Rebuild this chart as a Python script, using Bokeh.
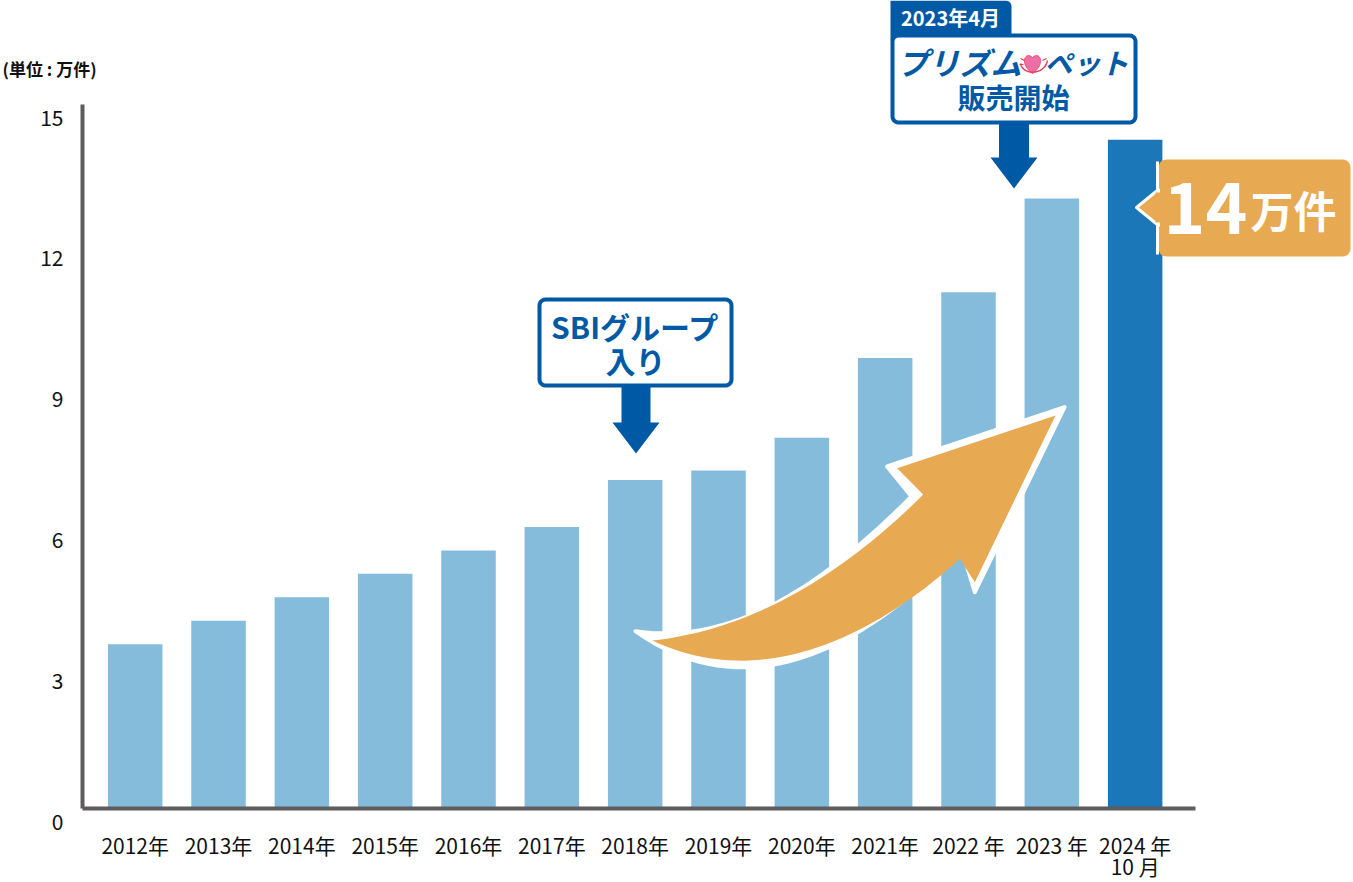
from bokeh.plotting import figure
from bokeh.models import Label, FixedTicker, Range1d, LinearAxis
from bokeh.embed import file_html
from bokeh.resources import INLINE
import numpy as np

# ---- data ----
years = ["2012年", "2013年", "2014年", "2015年", "2016年", "2017年", "2018年",
         "2019年", "2020年", "2021年", "2022 年", "2023 年", "2024 年"]
last_year_note = "10 月"
values = [3.5, 4.0, 4.5, 5.0, 5.5, 6.0, 7.0, 7.2, 7.9, 9.6, 11.0, 13.0, 14.25]
bar_colors = ["#85BCDC"] * 12 + ["#1B77B8"]
y_ticks = [0, 3, 6, 9, 12, 15]

# ---- styles / geometry ----
FONT = "Noto Sans CJK JP"
BLUE = "#0059A4"
ORANGE = "#E8A953"
AXIS = "#5E5C5D"
W, H = 1353, 882
LEFT, BASE = 82, 808          # pixel position of the axes
STEP, UNIT = 83.33, 46.93     # pixels per category, pixels per value unit
X0 = 134.7                    # pixel centre of the first bar
LABEL_DROP = 13 / UNIT        # the value labels sit lower than their level


def X(px):
    return (np.asarray(px, dtype=float) - X0) / STEP


def Y(py):
    return (BASE - np.asarray(py, dtype=float)) / UNIT


p = figure(width=W, height=H, output_backend="svg", toolbar_location=None,
           x_range=Range1d(float(X(0)), float(X(W))),
           y_range=Range1d(float(Y(H)), float(Y(0))),
           x_axis_location="below", y_axis_location="left",
           min_border=0, outline_line_color=None,
           background_fill_color="white", border_fill_color="white")
p.styles = {"position": "absolute", "left": "0px", "top": "0px"}
p.grid.visible = False
p.extra_y_ranges = {"labels": Range1d(float(Y(H)) + LABEL_DROP, float(Y(0)) + LABEL_DROP)}

idx = list(range(len(years)))
p.vbar(x=idx, top=values, bottom=0, width=54.5 / STEP, color=bar_colors, line_color=None)

xa = p.xaxis[0]
xa.fixed_location = 0
xa.ticker = FixedTicker(ticks=idx)
xa.major_label_overrides = {i: s for i, s in zip(idx, years)}
xa.bounds = (float(X(LEFT)), float(X(1195)))
xa.axis_line_color = AXIS
xa.axis_line_width = 4
xa.major_tick_line_color = None
xa.minor_tick_line_color = None
xa.major_label_text_font = FONT
xa.major_label_text_font_size = "21px"
xa.major_label_text_color = "#111111"
xa.major_label_standoff = 15

ya = p.yaxis[0]
ya.fixed_location = float(X(LEFT))
ya.ticker = FixedTicker(ticks=[])
ya.bounds = (0, 15)
ya.axis_line_color = AXIS
ya.axis_line_width = 4
ya.major_tick_line_color = None
ya.minor_tick_line_color = None

yl = LinearAxis(y_range_name="labels", fixed_location=float(X(LEFT)),
                ticker=FixedTicker(ticks=y_ticks), axis_line_color=None,
                major_tick_line_color=None, minor_tick_line_color=None,
                major_label_text_font=FONT, major_label_text_font_size="21px",
                major_label_text_color="#111111", major_label_standoff=13)
p.add_layout(yl, "left")


def txt(text, px, py, size, color=BLUE, style="bold", align="center", font=FONT):
    p.add_layout(Label(x=float(X(px)), y=float(Y(py)), text=text, text_font=font,
                       text_font_size=f"{size}px", text_color=color,
                       text_font_style=style, text_align=align,
                       text_baseline="middle"))


def rounded(x0, y0, x1, y1, r, corners=(1, 1, 1, 1)):
    """Outline of a rounded box in pixels: TL, TR, BR, BL corners."""
    pts = []
    centres = [(x0 + r, y0 + r, 180), (x1 - r, y0 + r, 270), (x1 - r, y1 - r, 0), (x0 + r, y1 - r, 90)]
    raw = [(x0, y0), (x1, y0), (x1, y1), (x0, y1)]
    for (cx, cy, a), rc, on in zip(centres, raw, corners):
        if on:
            for t in np.radians(np.linspace(a, a + 90, 7)):
                pts.append((cx + r * np.cos(t), cy + r * np.sin(t)))
        else:
            pts.append(rc)
    return pts


def poly(pts, fill, line=None, width=0):
    a = np.array(pts)
    p.patch(X(a[:, 0]), Y(a[:, 1]), fill_color=fill, line_color=line, line_width=width,
            line_join="round")


def bezier(p0, p1, p2, p3, n=40):
    t = np.linspace(0, 1, n)[:, None]
    p0, p1, p2, p3 = map(np.array, (p0, p1, p2, p3))
    return ((1 - t) ** 3 * p0 + 3 * (1 - t) ** 2 * t * p1 + 3 * (1 - t) * t ** 2 * p2 + t ** 3 * p3).tolist()


def zoomed(pts):
    return [(620 + a / 3, 390 + b / 3) for a, b in pts]


def down_arrow(cx, half_shaft, half_head, y0, y1, tip):
    poly([(cx - half_shaft, y0), (cx + half_shaft, y0), (cx + half_shaft, y1), (cx + half_head, y1),
          (cx, tip), (cx - half_head, y1), (cx - half_shaft, y1)], BLUE)


# second line of the last category label
p.add_layout(Label(x=float(idx[-1]), y=float(Y(865)), text=last_year_note, text_font=FONT,
                   text_font_size="21px", text_color="#111111", text_align="center",
                   text_baseline="middle"))

# big curved arrow: white halo, then the orange body
white = (bezier((45, 722), (370, 770), (650, 540), (873, 318))
         + [(800, 228), (1332, 50), (1063, 605), (1025, 480)]
         + bezier((1015, 480), (760, 740), (400, 975), (45, 722)))
poly(zoomed(white), "white", "white", 4)
body = (bezier((95, 750), (380, 720), (655, 565), (908, 312))
        + [(830, 233), (1305, 75), (1063, 575)]
        + bezier((1018, 505), (760, 740), (420, 905), (95, 750)))
poly(zoomed(body), ORANGE)

# SBI callout
down_arrow(635.5, 14.5, 23.5, 386, 422, 453)
poly(rounded(539, 299, 731, 385, 6), "white", BLUE, 4)
txt("SBIグループ", 635, 325, 30)
txt("入り", 635, 359, 30)

# 2023 callout
down_arrow(1013.5, 15, 23.5, 122, 157, 188)
poly(rounded(890, 0, 1011, 40, 6, corners=(0, 1, 0, 0)), BLUE)
poly(rounded(892, 35, 1135, 122, 6), "white", BLUE, 4)
txt("2023年4月", 950, 17, 20, color="white")
txt("プリズム", 959, 61, 31, style="bold italic")
txt("ペット", 1086, 61, 28, style="bold italic")
txt("販売開始", 1013, 96, 28)

# heart mark
h = (bezier((1032, 73), (1018, 63), (1025, 50), (1032, 57))
     + bezier((1032, 57), (1039, 50), (1046, 63), (1032, 73)))
poly(h, "#EE6FA8", "#E8384F", 0.8)
rib = np.array(bezier((1020, 63), (1022, 75), (1044, 75), (1047, 60), 20))
p.line(X(rib[:, 0]), Y(rib[:, 1]), line_color="#E8384F", line_width=1.4)
p.multi_line([X([1020, 1024]).tolist(), X([1019, 1023]).tolist(), X([1042, 1046]).tolist()],
             [Y([58, 60]).tolist(), Y([64, 64]).tolist(), Y([60, 58]).tolist()],
             line_color="#E8384F", line_width=1.2)

# value callout
tag = rounded(1158, 159, 1350, 256, 8)
poly(tag, ORANGE, None)
poly([(1158, 189), (1136, 207), (1158, 225)], ORANGE, "white", 3)
poly([(1155, 192), (1162, 192), (1162, 222), (1155, 222)], ORANGE)
p.line(X([1157, 1157]), Y([161, 189]), line_color="white", line_width=3)
p.line(X([1157, 1157]), Y([225, 254]), line_color="white", line_width=3)
txt("14", 1205, 207, 71, color="white")
txt("万件", 1293, 208, 43, color="white")

# unit
txt("(単位 : 万件)", 2, 68, 17, color="#111111", align="left")

open("out.html", "w").write(file_html(p, INLINE))
